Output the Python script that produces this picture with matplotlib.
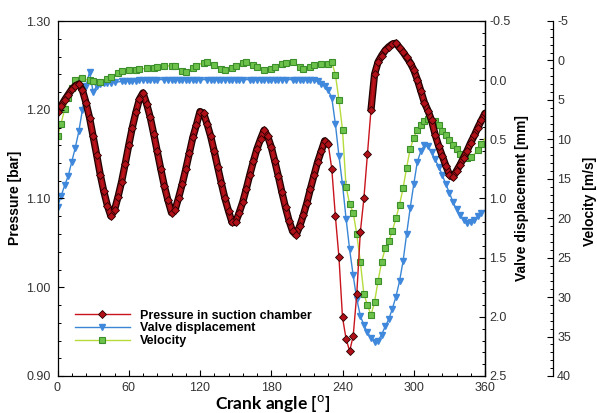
import numpy as np
import matplotlib
matplotlib.use('Agg')
import matplotlib.pyplot as plt
from matplotlib.ticker import MultipleLocator, FormatStrFormatter
from matplotlib.font_manager import FontProperties

# crank angle grid, 3 degree steps over one revolution
angle = np.arange(0, 361, 3)

# pressure in suction chamber [bar]
pressure = [
    1.197, 1.204, 1.211, 1.217, 1.223, 1.227, 1.229, 1.222, 1.208, 1.191,
    1.170, 1.149, 1.127, 1.108, 1.092, 1.080, 1.087, 1.102, 1.119, 1.139,
    1.160, 1.180, 1.197, 1.212, 1.219, 1.207, 1.192, 1.173, 1.153, 1.133,
    1.114, 1.098, 1.084, 1.087, 1.101, 1.116, 1.133, 1.151, 1.169, 1.183,
    1.198, 1.196, 1.184, 1.170, 1.153, 1.135, 1.117, 1.100, 1.086, 1.073,
    1.073, 1.084, 1.096, 1.111, 1.127, 1.142, 1.156, 1.167, 1.177, 1.170,
    1.158, 1.142, 1.125, 1.107, 1.090, 1.075, 1.063, 1.059, 1.069, 1.081,
    1.095, 1.111, 1.126, 1.141, 1.153, 1.165, 1.161, 1.133, 1.080, 1.034,
    0.966, 0.942, 0.928, 0.945, 0.992, 1.062, 1.100, 1.150, 1.200, 1.240,
    1.254, 1.261, 1.267, 1.271, 1.274, 1.275, 1.270, 1.265, 1.259, 1.253,
    1.245, 1.234, 1.221, 1.208, 1.199, 1.188, 1.172, 1.159, 1.148, 1.137,
    1.127, 1.124, 1.131, 1.138, 1.146, 1.154, 1.163, 1.171, 1.180, 1.188,
    1.196,
]

# valve displacement [mm]
displacement = [
    1.07, 0.98, 0.89, 0.81, 0.69, 0.57, 0.43, 0.25, 0.05, -0.07,
    0.10, 0.05, 0.03, 0.025, 0.02, 0.02, 0.015, 0.015, 0.01, 0.01,
    0.01, 0.005, 0.005, 0.0, 0.0, 0.0, -0.005, -0.005, -0.005, -0.005,
    -0.005, -0.005, -0.005, -0.005, -0.005, -0.005, -0.005, -0.005, -0.005, -0.005,
    -0.005, -0.005, -0.005, -0.005, -0.005, -0.005, -0.005, -0.005, -0.005, -0.005,
    -0.005, -0.005, -0.005, -0.005, -0.005, -0.005, -0.005, -0.005, -0.005, -0.005,
    -0.005, -0.005, -0.005, -0.005, -0.005, -0.005, -0.005, -0.005, -0.005, -0.005,
    -0.005, -0.005, 0.0, 0.01, 0.03, 0.05, 0.085, 0.15, 0.37, 0.64,
    0.88, 1.17, 1.43, 1.65, 1.85, 1.99, 2.07, 2.13, 2.18, 2.21,
    2.20, 2.15, 2.08, 2.02, 1.93, 1.83, 1.70, 1.53, 1.30, 1.08,
    0.88, 0.69, 0.60, 0.55, 0.56, 0.61, 0.67, 0.73, 0.80, 0.88,
    0.95, 1.03, 1.09, 1.14, 1.18, 1.21, 1.20, 1.18, 1.15, 1.12,
    1.10,
]

# valve velocity [m/s]
velocity = [
    9.6, 8.0, 6.2, 4.8, 3.5, 2.5, 2.1, 2.2, 2.4, 2.5,
    2.6, 2.7, 2.7, 2.6, 2.4, 2.1, 1.8, 1.6, 1.4, 1.3,
    1.25, 1.2, 1.15, 1.1, 1.05, 1.0, 0.95, 0.9, 0.85, 0.8,
    0.75, 0.7, 0.65, 0.7, 1.0, 1.35, 1.5, 1.3, 0.95, 0.7,
    0.45, 0.3, 0.2, 0.35, 0.6, 0.85, 1.1, 1.25, 1.25, 0.95,
    0.7, 0.5, 0.3, 0.2, 0.35, 0.55, 0.8, 1.05, 1.2, 1.27,
    1.1, 0.8, 0.55, 0.4, 0.3, 0.2, 0.25, 0.5, 0.8, 1.05,
    1.0, 0.8, 0.64, 0.55, 0.5, 0.45, 0.4, 0.2, 1.8, 5.0,
    8.8, 16.0, 18.2, 19.3, 22.0, 25.5, 29.6, 31.0, 32.3, 30.6,
    27.9, 25.5, 23.8, 22.9, 21.6, 20.0, 18.3, 16.2, 13.6, 11.2,
    9.8, 8.8, 8.2, 7.7, 7.45, 7.4, 7.7, 8.2, 8.9, 9.5,
    10.1, 10.7, 11.2, 11.8, 12.2, 12.4, 12.2, 11.9, 11.3, 10.6,
    9.9,
]

W, H = 597, 413
tick_font = ['Liberation Sans', 'DejaVu Sans']
plt.rcParams['font.family'] = tick_font
plt.rcParams['xtick.labelsize'] = 9
plt.rcParams['ytick.labelsize'] = 9
plt.rcParams['axes.unicode_minus'] = False

fig = plt.figure(figsize=(W / 100, H / 100), dpi=100)
ax = fig.add_axes([57.5 / W, 1 - 376 / H, 427.5 / W, 355 / H])
ax2 = ax.twinx()
ax3 = ax.twinx()

# velocity axis sits to the right of the displacement axis
ax3.spines['right'].set_position(('axes', 1.159))
for s in ['top', 'left', 'bottom']:
    ax3.spines[s].set_visible(False)
    ax2.spines[s].set_visible(False)

# draw pressure on top of the other two series
ax.set_zorder(ax3.get_zorder() + 1)
ax.patch.set_visible(False)

l2, = ax2.plot(angle, displacement, color='#3a86d6', lw=1.0, marker='v', ms=4.5,
               mfc='#3f88db', mec='#3f88db', markevery=0.007,
               label='Valve displacement')
l3, = ax3.plot(angle, velocity, color='#b5dc3c', lw=1.0, marker='s', ms=4.2,
               mfc='#6cc24a', mec='#3d8f2c', mew=0.8, markevery=0.011,
               label='Velocity')

# the slowly varying parts of the pressure trace are drawn as a dense band
p = np.array(pressure)
slow = (angle < 229) | (angle > 262)
band = np.where(slow, p, np.nan)
ax.plot(angle, band, color='#1e0000', lw=5.2, solid_capstyle='round', solid_joinstyle='round')
ax.plot(angle, band, color='#a01016', lw=3.4, solid_capstyle='round', solid_joinstyle='round')
l1, = ax.plot(angle, p, color='#c8141c', lw=1.0, marker='D', ms=4.5,
              mfc='#b01018', mec='#2a0000', mew=0.6,
              label='Pressure in suction chamber')

ax.set_xlim(0, 360)
ax.set_ylim(0.90, 1.30)
ax2.set_ylim(2.5, -0.5)
ax3.set_ylim(40, -5)

ax.xaxis.set_major_locator(MultipleLocator(60))
ax.xaxis.set_minor_locator(MultipleLocator(12))
ax.yaxis.set_major_locator(MultipleLocator(0.1))
ax.yaxis.set_minor_locator(MultipleLocator(0.02))
ax.yaxis.set_major_formatter(FormatStrFormatter('%.2f'))
ax2.yaxis.set_major_locator(MultipleLocator(0.5))
ax2.yaxis.set_minor_locator(MultipleLocator(0.1))
ax2.yaxis.set_major_formatter(FormatStrFormatter('%.1f'))
ax3.yaxis.set_major_locator(MultipleLocator(5))
ax3.yaxis.set_minor_locator(MultipleLocator(1))

tc = '#333333'
ax.tick_params(axis='both', which='major', direction='in', length=4.5, width=0.8,
               colors='black', labelcolor=tc)
ax.tick_params(axis='both', which='minor', direction='in', length=2.5, width=0.7)
ax.tick_params(axis='y', pad=5)
ax.tick_params(axis='x', pad=4)
ax.tick_params(top=False, which='both')
for a in (ax2, ax3):
    a.tick_params(axis='y', which='major', direction='in', length=4.5, width=0.8,
                  labelcolor=tc, pad=3)
    a.tick_params(axis='y', which='minor', direction='in', length=2.5, width=0.7)
for a in (ax, ax2, ax3):
    for s in a.spines.values():
        s.set_linewidth(0.9)

lab = dict(family=tick_font, weight='bold', size=10, color='black')
fig.text(15 / W, 1 - 198 / H, 'Pressure [bar]', rotation=90, ha='center', va='center', **lab)
fig.text(522 / W, 1 - 198 / H, 'Valve displacement [mm]', rotation=90, ha='center', va='center', **lab)
fig.text(590 / W, 1 - 201 / H, 'Velocity [m/s]', rotation=90, ha='center', va='center', **lab)
fig.text(273 / W, 1 - 404 / H, r'Crank angle [$^{\mathrm{o}}$]', ha='center', va='center',
         family=['Lato', 'DejaVu Sans'], weight='bold', size=12.5)

leg_font = FontProperties(family=['Liberation Sans Narrow', 'Liberation Sans'],
                          weight='bold', size=9)
ax.legend(handles=[l1, l2, l3], loc='lower left', bbox_to_anchor=(0.02, 0.057),
          frameon=False, prop=leg_font, handlelength=4.4, handletextpad=0.8,
          labelspacing=0.05, numpoints=1, borderaxespad=0.3)

fig.savefig('out.png', dpi=100)
